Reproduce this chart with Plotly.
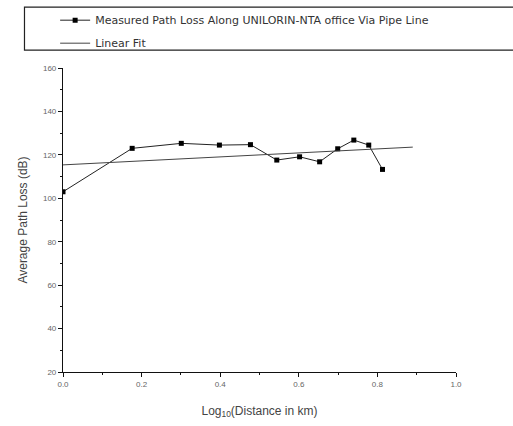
import numpy as np
import plotly.graph_objects as go

# Measured path loss along the pipe line route
log_distance = [0.0, 0.176, 0.301, 0.398, 0.477, 0.544, 0.602, 0.653, 0.699, 0.740, 0.778, 0.813]
path_loss_db = [103.0, 123.0, 125.3, 124.5, 124.7, 117.6, 119.1, 116.8, 122.8, 126.8, 124.5, 113.3]

# Linear fit over the measured points, drawn across the fit range
fit_range = [0.0, 0.89]
slope, intercept = np.polyfit(log_distance, path_loss_db, 1)
fit_y = [intercept + slope * x for x in fit_range]

y_ticks = [20, 40, 60, 80, 100, 120, 140, 160]
x_ticks = [0.0, 0.2, 0.4, 0.6, 0.8, 1.0]

fig = go.Figure()
fig.add_trace(go.Scatter(
    x=log_distance, y=path_loss_db, mode="lines+markers",
    name="Measured Path Loss Along UNILORIN-NTA office Via Pipe Line",
    legendgroup="measured",
    line=dict(color="#222222", width=1),
    marker=dict(symbol="square", size=5, color="#000000"),
))
fig.add_trace(go.Scatter(
    x=fit_range, y=fit_y, mode="lines", name="Linear Fit",
    legendgroup="fit",
    line=dict(color="#444444", width=1),
))

axis_common = dict(
    showgrid=False, zeroline=False, showline=True, linecolor="#111111", linewidth=1.2,
    ticks="outside", ticklen=4, tickwidth=1, tickcolor="#111111",
    tickfont=dict(family="Arial, Liberation Sans, sans-serif", size=8, color="#666666"),
    mirror=False,
    minor=dict(ticks="outside", ticklen=2, tickwidth=1, tickcolor="#111111"),
)

fig.update_xaxes(
    range=[0, 1.0], tickvals=x_ticks, ticktext=[f"{v:.1f}" for v in x_ticks],
    minor_dtick=0.1,
    title=dict(text="Log<sub>10</sub>(Distance in km)", standoff=18,
               font=dict(family="Arial, Liberation Sans, sans-serif", size=12, color="#444444")),
    **axis_common,
)
fig.update_yaxes(
    range=[20, 160], tickvals=y_ticks, minor_dtick=10,
    title=dict(text="Average Path Loss (dB)", standoff=12,
               font=dict(family="Arial, Liberation Sans, sans-serif", size=12, color="#444444")),
    **axis_common,
)

# Legend frame running off the right edge
fig.add_shape(type="rect", xref="paper", yref="paper",
              x0=-0.098, x1=1.2, y0=1.059, y1=1.2,
              line=dict(color="#222222", width=1.2), fillcolor="rgba(0,0,0,0)")

fig.update_layout(
    width=513, height=426,
    margin=dict(l=63, r=57, t=68, b=54, autoexpand=False),
    paper_bgcolor="white", plot_bgcolor="white",
    showlegend=True,
    legend=dict(x=-0.02, y=1.205, xanchor="left", yanchor="top",
                bgcolor="rgba(0,0,0,0)", borderwidth=0,
                font=dict(family="DejaVu Sans, sans-serif", size=11, color="#333333"),
                itemwidth=30, tracegroupgap=4),
)

fig.write_html("out.html")
